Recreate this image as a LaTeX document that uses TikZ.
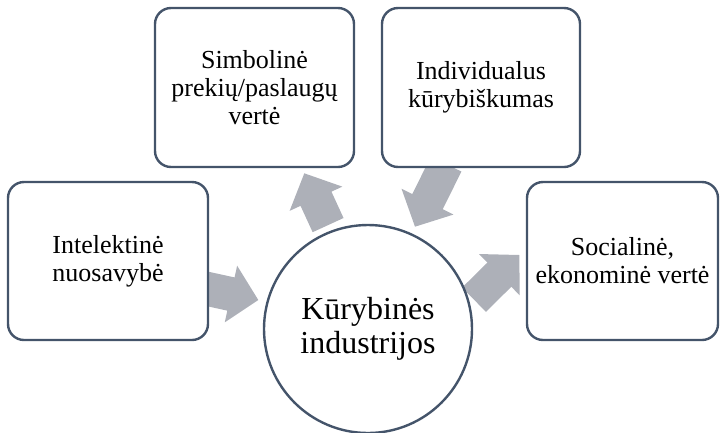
\documentclass[tikz,border=0pt]{standalone}
\usepackage{fontspec}
\setmainfont{Liberation Serif}
\usetikzlibrary{calc,backgrounds}

\definecolor{edgeblue}{HTML}{44546A}
\definecolor{flowgray}{RGB}{173,176,184}

\tikzset{
  card/.style={draw=edgeblue, line width=2.4pt, fill=white, rounded corners=16pt,
    align=center, inner sep=0pt, font=\fontsize{26}{28}\selectfont},
  hub/.style={circle, draw=edgeblue, line width=2.4pt, fill=white, minimum size=208pt,
    align=center, inner sep=0pt, font=\fontsize{32}{34}\selectfont},
  flowarrow/.style={fill=flowgray}
}

% block arrow from base point #1 to tip #2
\newcommand\blockarrow[2]{%
  \coordinate (hd) at ($(#2)!28pt!(#1)$);
  \fill[flowarrow] ($(#1)!17pt!90:(#2)$) -- ($(hd)!17pt!90:(#2)$) -- ($(hd)!29pt!90:(#2)$)
    -- (#2) -- ($(hd)!29pt!-90:(#2)$) -- ($(hd)!17pt!-90:(#2)$) -- ($(#1)!17pt!-90:(#2)$) -- cycle;
}

\begin{document}
\begin{tikzpicture}[x=1pt,y=-1pt]
  \useasboundingbox (0,0) rectangle (720,432);

  % central circle and the four boxes
  \node[hub] (hub) at (368,329) {Kūrybinės\\industrijos};
  \node[card, minimum width=200pt, minimum height=158pt] (ip) at (108,261) {Intelektinė\\nuosavybė};
  \node[card, minimum width=199pt, minimum height=159pt] (sv) at (254.5,87.5) {Simbolinė\\prekių/paslaugų\\vertė};
  \node[card, minimum width=198pt, minimum height=159pt] (ik) at (481,87.5) {Individualus\\kūrybiškumas};
  \node[card, minimum width=191pt, minimum height=158pt] (se) at (622.5,261) {Socialinė,\\ekonominė vertė};

  % arrow ends
  \coordinate (a1b) at (199.7,287.2);  \coordinate (a1t) at (258.3,300);
  \coordinate (a2b) at (446.2,164);    \coordinate (a2t) at (415,226.7);
  \coordinate (a3b) at (328.1,225.1);  \coordinate (a3t) at (304.3,173.3);
  \coordinate (a4b) at (474,299.7);    \coordinate (a4t) at (519.3,255);

  \begin{pgfonlayer}{background}
    \blockarrow{a1b}{a1t}
    \blockarrow{a2b}{a2t}
    \blockarrow{a3b}{a3t}
    \blockarrow{a4b}{a4t}
  \end{pgfonlayer}
\end{tikzpicture}
\end{document}
